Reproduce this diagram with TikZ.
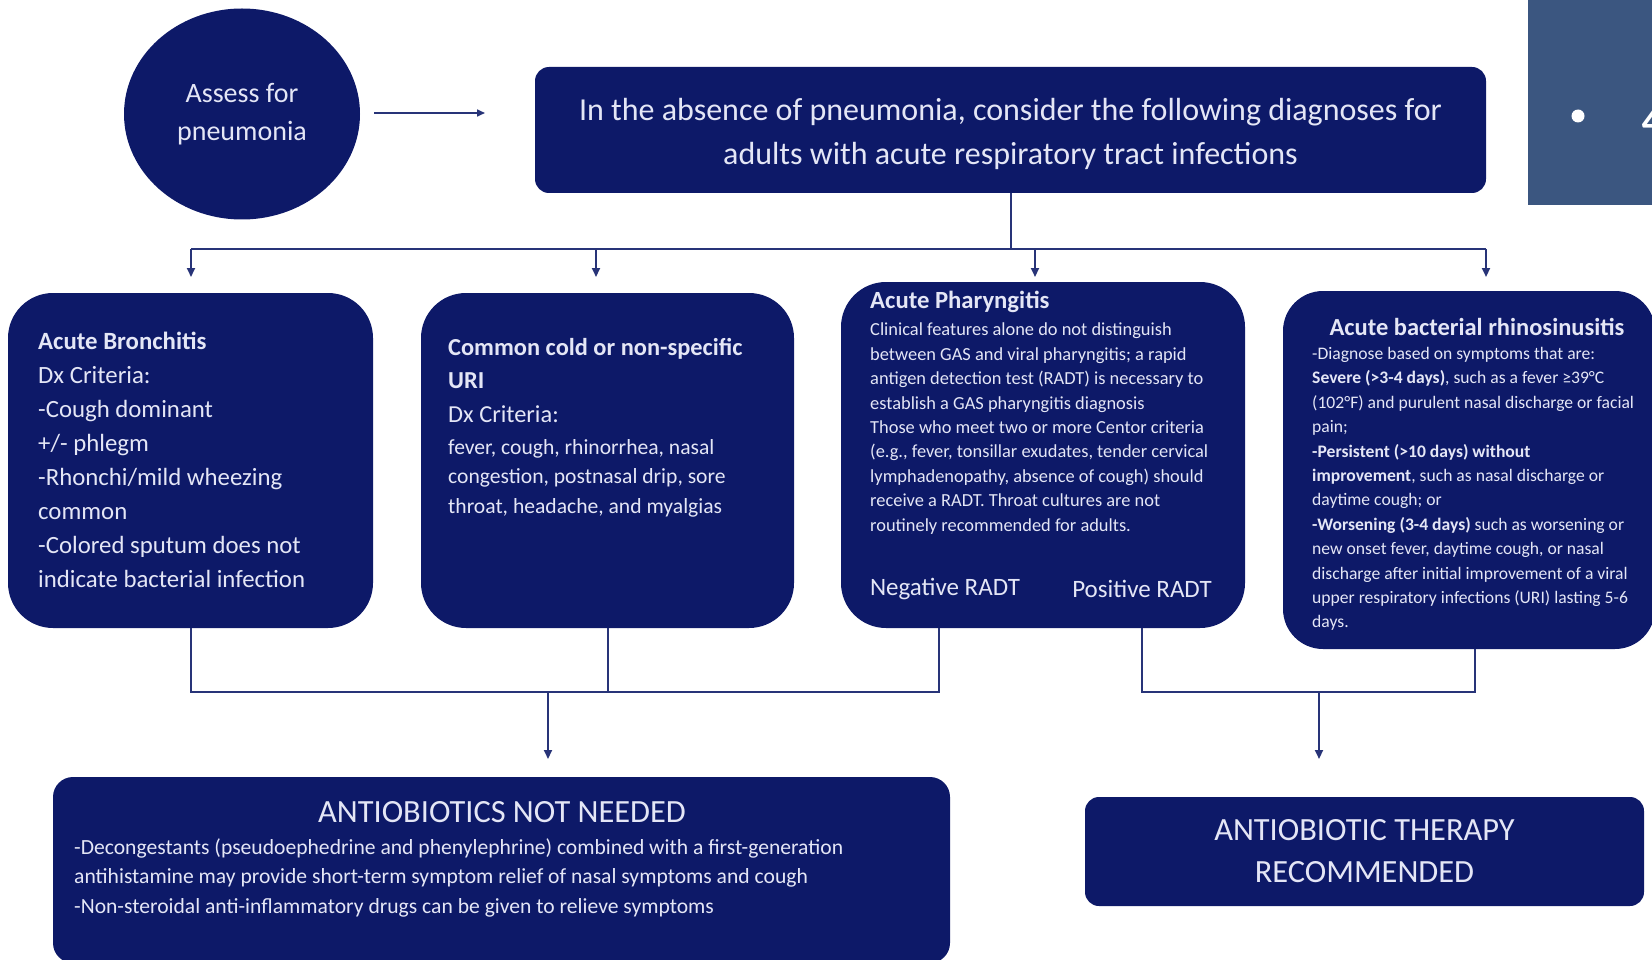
\documentclass[tikz,border=0pt]{standalone}
\usepackage{fontspec}
\setmainfont{Carlito}
\usetikzlibrary{shapes.geometric,arrows.meta}
\definecolor{navy}{RGB}{13,25,104}
\definecolor{txt}{RGB}{228,230,246}
\definecolor{lnc}{RGB}{40,52,120}
\definecolor{slide}{RGB}{59,86,128}
\begin{document}
\begin{tikzpicture}[x=1pt,y=-1pt,
  box/.style={fill=navy, draw=none, inner sep=0pt, rectangle},
  tx/.style={text=txt, inner sep=0pt, align=left, anchor=north west},
  conn/.style={draw=lnc, line width=2pt},
  arr/.style={conn, -{Triangle[length=9pt,width=8pt]}},
  fs/.style 2 args={font=\fontsize{#1}{#2}\selectfont}]
\useasboundingbox (0,0) rectangle (1652,960);
\begin{scope}
\clip (0,0) rectangle (1652,960);
% slide fragment top right
\fill[slide] (1528,0) rectangle (1652,205);
\fill[white] (1578,116) circle (6.5);
\node[text=white, inner sep=0pt, anchor=base west, fs={56}{60}] (four) at (1641,138) {4};

% boxes
\node[box, ellipse, minimum width=236, minimum height=211, text=txt, align=center, fs={28}{38}] (assess) at (242,114) {Assess for\\pneumonia};
\node[box, rounded corners=14, minimum width=951, minimum height=126] (top) at (1010.5,130) {};
\node[text=txt, inner sep=0pt, align=center, fs={32}{44}] (topt) at (1010.5,134)
  {In the absence of pneumonia, consider the following diagnoses for\\adults with acute respiratory tract infections};

\node[box, rounded corners=45, minimum width=365, minimum height=335] (bron) at (190.5,460.5) {};
\node[box, rounded corners=45, minimum width=373, minimum height=335] (cold) at (607.5,460.5) {};
\node[box, rounded corners=45, minimum width=404, minimum height=346] (phar) at (1043,455) {};
\node[box, rounded corners=40, minimum width=372, minimum height=358] (rhino) at (1469,470) {};

\node[box, rounded corners=20, minimum width=897, minimum height=186] (notneed) at (501.5,870) {};
\node[box, rounded corners=14, minimum width=559, minimum height=109, text=txt, align=center, fs={32.4}{42}] (ther) at (1364.5,851.5)
  {ANTIOBIOTIC THERAPY\\RECOMMENDED};

% box texts
\node[tx, fs={24.8}{34}] (bront) at (38,332)
  {\textbf{Acute Bronchitis}\\Dx Criteria:\\-Cough dominant\\+/- phlegm\\-Rhonchi/mild wheezing\\common\\-Colored sputum does not\\indicate bacterial infection};

\node[tx, fs={24.4}{33.5}] (coldh) at (448,338)
  {\textbf{Common cold or non-specific}\\\textbf{URI}\\Dx Criteria:};
\node[tx, fs={21.6}{29.5}] (coldt) at (448,439)
  {fever, cough, rhinorrhea, nasal\\congestion, postnasal drip, sore\\throat, headache, and myalgias};

\node[tx, fs={24.7}{28}] (pharh) at (870,291) {\textbf{Acute Pharyngitis}};
\node[tx, fs={18.4}{24.4}] (phart) at (870,323)
  {Clinical features alone do not distinguish\\between GAS and viral pharyngitis; a rapid\\antigen detection test (RADT) is necessary to\\establish a GAS pharyngitis diagnosis\\Those who meet two or more Centor criteria\\(e.g., fever, tonsillar exudates, tender cervical\\lymphadenopathy, absence of cough) should\\receive a RADT. Throat cultures are not\\routinely recommended for adults.};
\node[text=txt, inner sep=0pt, fs={25}{28}] (neg) at (945,589) {Negative RADT};
\node[text=txt, inner sep=0pt, fs={25}{28}] (pos) at (1142,589) {Positive RADT};

\node[text=txt, inner sep=0pt, fs={24.5}{28}] (rhinoh) at (1477,327) {\textbf{Acute bacterial rhinosinusitis}};
\node[tx, fs={17.6}{24.4}] (rhinot) at (1312,347)
  {-Diagnose based on symptoms that are:\\
   \textbf{Severe (>3-4 days)}, such as a fever ≥39°C\\
   (102°F) and purulent nasal discharge or facial\\
   pain;\\
   \textbf{-Persistent (>10 days) without}\\
   \textbf{improvement}, such as nasal discharge or\\
   daytime cough; or\\
   \textbf{-Worsening (3-4 days)} such as worsening or\\
   new onset fever, daytime cough, or nasal\\
   discharge after initial improvement of a viral\\
   upper respiratory infections (URI) lasting 5-6\\
   days.};

\node[text=txt, inner sep=0pt, fs={32.4}{36}] (nnh) at (502,812) {ANTIOBIOTICS NOT NEEDED};
\node[tx, fs={21.6}{29.5}] (nnt) at (74,838)
  {-Decongestants (pseudoephedrine and phenylephrine) combined with a first-generation\\antihistamine may provide short-term symptom relief of nasal symptoms and cough\\-Non-steroidal anti-inflammatory drugs can be given to relieve symptoms};

% connectors
\coordinate (aend) at (485,113);
\draw[conn, line width=1.6pt, -{Triangle[length=8pt,width=7pt]}] ([xshift=14pt]assess.east |- aend) -- (aend);

\coordinate (d1) at (191,249);
\coordinate (d2) at (596,249);
\coordinate (d3) at (1035,249);
\coordinate (d4) at (1486,249);
\draw[conn] (top.south) -- (top.south |- d1);
\draw[conn] (d1) -- (d4);
\draw[arr] (d1) -- ++(0,28);
\draw[arr] (d2) -- ++(0,28);
\draw[arr] (d3) -- ++(0,28);
\draw[arr] (d4) -- ++(0,28);

\coordinate (jl) at (548,692);
\coordinate (nv) at (939,628);
\draw[conn] (bron.south) -- (bron.south |- jl) -- (nv |- jl) -- (nv);
\draw[conn] (cold.south) -- (cold.south |- jl);
\draw[arr] (jl) -- ++(0,67);

\coordinate (jr) at (1319,692);
\coordinate (rv) at (1475,649);
\draw[conn] (pos.south |- phar.south) -- (pos.south |- jr) -- (rv |- jr) -- (rv);
\draw[arr] (jr) -- ++(0,67);
\end{scope}
\end{tikzpicture}
\end{document}
